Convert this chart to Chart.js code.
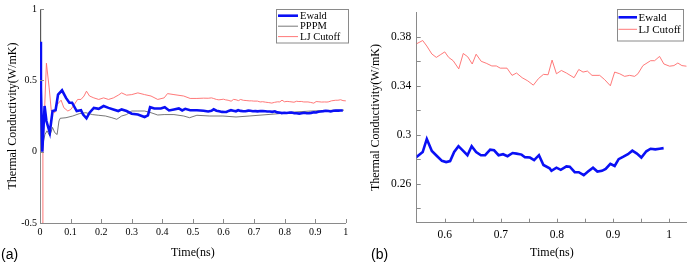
<!DOCTYPE html>
<html>
<head>
<meta charset="utf-8">
<script src="https://cdn.jsdelivr.net/npm/chart.js@4.4.0/dist/chart.umd.min.js"></script>
<style>
  html, body { margin: 0; padding: 0; background: #fff; }
  #wrap { position: relative; width: 687px; height: 266px; overflow: hidden; background: #fff; }
  canvas { position: absolute; top: 0; }
  #cA { left: 0; }
  #cB { left: 352px; }
  .panel { position: absolute; font-family: "Liberation Sans", Arial, sans-serif; font-size: 14px; color: #000; line-height: 16px; }
</style>
</head>
<body>
<div id="wrap">
  <canvas id="cA" width="352" height="266"></canvas>
  <canvas id="cB" width="335" height="266"></canvas>
  <div class="panel" style="left:1px; top:246px;">(a)</div>
  <div class="panel" style="left:371px; top:246px;">(b)</div>
</div>
<script>
// ---------------- data ----------------
const ewaldTime = [0, 0.003, 0.0075, 0.015, 0.021, 0.032, 0.041, 0.051, 0.059, 0.072, 0.085, 0.096, 0.105, 0.12, 0.134, 0.141, 0.152, 0.162, 0.176, 0.192, 0.208, 0.224, 0.24, 0.256, 0.267, 0.283, 0.30, 0.32, 0.342, 0.353, 0.36, 0.374, 0.395, 0.408, 0.422, 0.438, 0.454, 0.465, 0.475, 0.491, 0.513, 0.535,
  0.55, 0.5607, 0.568, 0.577, 0.586, 0.595, 0.6025, 0.6096, 0.6168, 0.6245, 0.632, 0.6405, 0.648, 0.656, 0.6645, 0.672, 0.681, 0.688, 0.696, 0.704, 0.712, 0.721, 0.728, 0.737, 0.743, 0.752, 0.7594, 0.768, 0.776, 0.787, 0.7903, 0.7992, 0.8069, 0.817, 0.8229, 0.8318, 0.839, 0.8479, 0.8555, 0.8644, 0.8722, 0.8804, 0.887, 0.8953, 0.903, 0.9101, 0.9178, 0.9267, 0.9345, 0.9427, 0.9506, 0.9595, 0.9671, 0.9755, 0.9831, 0.9903];
const ewaldValues = [0.77, 0.45, 0.0, 0.32, 0.215, 0.134, 0.285, 0.29, 0.40, 0.43, 0.377, 0.343, 0.343, 0.285, 0.29, 0.26, 0.234, 0.273, 0.307, 0.30, 0.32, 0.307, 0.296, 0.285, 0.296, 0.285, 0.266, 0.26, 0.243, 0.255, 0.312, 0.303, 0.303, 0.312, 0.289, 0.296, 0.303, 0.289, 0.30, 0.29, 0.29, 0.287,
  0.2818, 0.2858, 0.2965, 0.2866, 0.2826, 0.2786, 0.2776, 0.2784, 0.2858, 0.2906, 0.2872, 0.2832, 0.2906, 0.2858, 0.2832, 0.2832, 0.2877, 0.2872, 0.2832, 0.284, 0.2824, 0.285, 0.2845, 0.2837, 0.2816, 0.2813, 0.2792, 0.2832, 0.2752, 0.2725, 0.2704, 0.273, 0.2712, 0.2741, 0.2738, 0.2693, 0.2693, 0.2669, 0.2698, 0.273, 0.2698, 0.2704, 0.272, 0.2762, 0.2744, 0.28, 0.2818, 0.284, 0.2869, 0.2845, 0.2813, 0.2864, 0.2885, 0.288, 0.2885, 0.289];

const pppmTime = [0, 0.002, 0.007, 0.016, 0.023, 0.032, 0.041, 0.048, 0.056, 0.062, 0.066, 0.085, 0.107, 0.128, 0.15, 0.171, 0.192, 0.214, 0.235, 0.251, 0.267, 0.283, 0.30, 0.32, 0.342, 0.363, 0.385, 0.406, 0.438, 0.47, 0.489, 0.513, 0.555, 0.598, 0.641, 0.684, 0.726, 0.78, 0.833, 0.887, 0.94, 0.994];
const pppmValues = [1.0, 0.6, 0.03, 0.12, 0.146, 0.11, 0.17, 0.134, 0.12, 0.215, 0.234, 0.238, 0.25, 0.266, 0.273, 0.26, 0.255, 0.25, 0.238, 0.227, 0.25, 0.26, 0.285, 0.285, 0.285, 0.273, 0.257, 0.26, 0.26, 0.25, 0.238, 0.255, 0.25, 0.25, 0.243, 0.25, 0.257, 0.266, 0.278, 0.285, 0.289, 0.291];

const ljTime = [0.008, 0.0095, 0.021, 0.03, 0.037, 0.048, 0.056, 0.069, 0.078, 0.091, 0.101, 0.112, 0.123, 0.134, 0.144, 0.152, 0.162, 0.176, 0.192, 0.208, 0.224, 0.24, 0.256, 0.267, 0.283, 0.30, 0.32, 0.342, 0.363, 0.385, 0.406, 0.417, 0.438, 0.47, 0.491, 0.513, 0.535,
  0.55, 0.5607, 0.568, 0.577, 0.585, 0.592, 0.600, 0.607, 0.615, 0.625, 0.633, 0.641, 0.649, 0.656, 0.665, 0.674, 0.684, 0.692, 0.699, 0.711, 0.720, 0.728, 0.738, 0.748, 0.758, 0.767, 0.776, 0.7843, 0.7914, 0.7992, 0.808, 0.817, 0.8306, 0.839, 0.8466, 0.8544, 0.8626, 0.8763, 0.8852, 0.8953, 0.903, 0.912, 0.9208, 0.9297, 0.9386, 0.9445, 0.9534, 0.9671, 0.9742, 0.9831, 0.9908, 1.001, 1.0086, 1.0157, 1.0229, 1.031];
const ljValues = [-0.5, 0.0, 0.62, 0.447, 0.285, 0.273, 0.33, 0.361, 0.308, 0.285, 0.296, 0.33, 0.366, 0.366, 0.39, 0.424, 0.39, 0.377, 0.366, 0.377, 0.366, 0.377, 0.396, 0.412, 0.396, 0.40, 0.412, 0.40, 0.39, 0.366, 0.377, 0.407, 0.40, 0.39, 0.373, 0.373, 0.375,
  0.3744, 0.377, 0.3725, 0.366, 0.3632, 0.3653, 0.3677, 0.3632, 0.3605, 0.3538, 0.3664, 0.3637, 0.3578, 0.3658, 0.36, 0.3584, 0.3562, 0.3562, 0.3544, 0.3544, 0.3485, 0.3504, 0.3466, 0.344, 0.3405, 0.3458, 0.3493, 0.349, 0.361, 0.3498, 0.3525, 0.3504, 0.3466, 0.3533, 0.3512, 0.352, 0.3485, 0.3485, 0.345, 0.34, 0.3512, 0.3498, 0.3477, 0.3485, 0.3477, 0.3498, 0.3565, 0.3605, 0.3605, 0.364, 0.3578, 0.356, 0.3565, 0.3586, 0.3565, 0.356];

const seriesNames = ["Ewald", "PPPM", "LJ Cutoff"];

const leftXTicks = [0, 0.1, 0.2, 0.3, 0.4, 0.5, 0.6, 0.7, 0.8, 0.9, 1];
const leftXLabels = ["0", "0.1", "0.2", "0.3", "0.4", "0.5", "0.6", "0.7", "0.8", "0.9", "1"];
const leftYTicks = [-0.5, 0, 0.5, 1];
const leftYLabels = ["-0.5", "0", "0.5", "1"];
const rightXTicks = [0.6, 0.65, 0.7, 0.75, 0.8, 0.85, 0.9, 0.95, 1.0];
const rightXLabels = ["0.6", "", "0.7", "", "0.8", "", "0.9", "", "1"];
const rightYTicks = [0.24, 0.26, 0.28, 0.30, 0.32, 0.34, 0.36, 0.38];
const rightYLabels = ["", "0.26", "", "0.3", "", "0.34", "", "0.38"];

// ---------------- helpers ----------------
const toPts = (t, v) => t.map((x, i) => ({x: x, y: v[i]}));
const SERIF = "'Liberation Serif', 'Times New Roman', serif";
const AXIS = '#8a8a8a';

const styles = {
  "Ewald": {borderColor: '#0a10f5', borderWidth: 2.6},
  "PPPM": {borderColor: '#555555', borderWidth: 0.8},
  "LJ Cutoff": {borderColor: '#ff6a6a', borderWidth: 0.9}
};

function ds(name, t, v) {
  return Object.assign({label: name, data: toPts(t, v), pointRadius: 0, tension: 0, fill: false}, styles[name]);
}

const inwardTicks = {
  id: 'inwardTicks',
  afterDatasetsDraw(chart) {
    const ctx = chart.ctx, a = chart.chartArea;
    ctx.save();
    ctx.strokeStyle = AXIS; ctx.lineWidth = 1;
    const xs = chart.scales.x, ys = chart.scales.y;
    ctx.beginPath();
    xs.ticks.forEach(t => { const p = Math.round(xs.getPixelForValue(t.value)) + 0.5; ctx.moveTo(p, a.bottom); ctx.lineTo(p, a.bottom - 4); });
    ys.ticks.forEach(t => { const p = Math.round(ys.getPixelForValue(t.value)) + 0.5; ctx.moveTo(a.left, p); ctx.lineTo(a.left + 4, p); });
    ctx.stroke();
    ctx.restore();
  }
};

const boxLegend = {
  id: 'boxLegend',
  afterDraw(chart, args, opts) {
    const ctx = chart.ctx;
    ctx.save();
    ctx.fillStyle = '#fff';
    ctx.fillRect(opts.x, opts.y, opts.w, opts.h);
    ctx.strokeStyle = '#8a8a8a'; ctx.lineWidth = 1;
    ctx.strokeRect(opts.x + 0.5, opts.y + 0.5, opts.w, opts.h);
    chart.data.datasets.forEach((d, i) => {
      const y = opts.rows[i];
      ctx.strokeStyle = d.borderColor; ctx.lineWidth = d.borderWidth;
      ctx.beginPath(); ctx.moveTo(opts.lx1, y); ctx.lineTo(opts.lx2, y); ctx.stroke();
      ctx.fillStyle = '#000'; ctx.font = opts.font; ctx.textBaseline = 'middle'; ctx.textAlign = 'left';
      ctx.fillText(d.label, opts.tx, y + 0.5);
    });
    ctx.restore();
  }
};

function axis(min, max, tickVals, tickLabels, fontSize, pad, fitKey, fitVal, title, titlePad) {
  return {
    type: 'linear', min: min, max: max,
    grid: {display: false, drawTicks: false},
    border: {display: true, color: AXIS, width: 1},
    afterBuildTicks: s => { s.ticks = tickVals.map(v => ({value: v})); },
    afterFit: s => { s[fitKey] = fitVal; },
    ticks: {
      autoSkip: false, maxRotation: 0, padding: pad, color: '#000',
      font: {family: SERIF, size: fontSize},
      callback: (v, i) => tickLabels[i]
    },
    title: {display: true, text: title, color: '#000', font: {family: SERIF, size: 12}, padding: titlePad}
  };
}

// ---------------- chart (a) ----------------
new Chart(document.getElementById('cA'), {
  type: 'line',
  data: {datasets: [
    ds(seriesNames[0], ewaldTime, ewaldValues),
    ds(seriesNames[1], pppmTime, pppmValues),
    ds(seriesNames[2], ljTime, ljValues)
  ]},
  options: {
    responsive: false, animation: false, events: [],
    layout: {padding: {top: 7, right: 1, bottom: 0, left: 0}},
    scales: {
      x: axis(0, 1, leftXTicks, leftXLabels, 10, 3.7, 'height', 43, 'Time(ns)', {top: 0, bottom: 5.8}),
      y: axis(-0.5, 1, leftYTicks, leftYLabels, 10, 3, 'width', 40, 'Thermal Conductivity(W/mK)', {top: 5.8, bottom: 0})
    },
    plugins: {
      legend: {display: false}, tooltip: {enabled: false},
      boxLegend: {x: 276, y: 9, w: 72, h: 33.5, rows: [15.7, 26.2, 36.6], lx1: 278, lx2: 298, tx: 300, font: "10.5px " + SERIF}
    }
  },
  plugins: [inwardTicks, boxLegend]
});

// ---------------- chart (b) ----------------
new Chart(document.getElementById('cB'), {
  type: 'line',
  data: {datasets: [
    ds(seriesNames[0], ewaldTime, ewaldValues),
    ds(seriesNames[2], ljTime, ljValues)
  ]},
  options: {
    responsive: false, animation: false, events: [],
    layout: {padding: {top: 6.5, right: 0, bottom: 0, left: 0}},
    scales: {
      x: axis(0.55, 1.032, rightXTicks, rightXLabels, 11.5, 5.4, 'height', 43.3, 'Time(ns)', {top: 0, bottom: 5.8}),
      y: axis(0.228, 0.4, rightYTicks, rightYLabels, 11.5, 5.5, 'width', 64.7, 'Thermal Conductivity(W/mK)', {top: 16.8, bottom: 0})
    },
    plugins: {
      legend: {display: false}, tooltip: {enabled: false},
      boxLegend: {x: 265, y: 9, w: 66, h: 31.5, rows: [17.3, 29.3], lx1: 266.5, lx2: 285, tx: 286.5, font: "11px " + SERIF}
    }
  },
  plugins: [inwardTicks, boxLegend]
});
</script>
</body>
</html>
